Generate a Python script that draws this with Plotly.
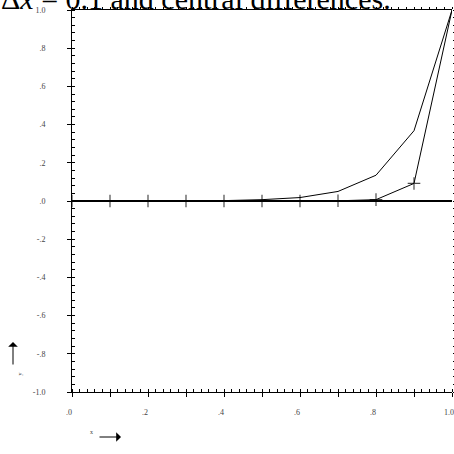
import plotly.graph_objects as go

# Data
x_vals = [0.0, 0.1, 0.2, 0.3, 0.4, 0.5, 0.6, 0.7, 0.8, 0.9, 1.0]
exact_y = [0.0, 0.0, 0.0, 0.001, 0.002, 0.007, 0.018, 0.05, 0.135, 0.368, 1.0]
central_y = [0.0, 0.0, 0.0, 0.0, 0.0, 0.0, 0.0, 0.001, 0.007, 0.092, 1.0]

x_tickvals = [0.0, 0.1, 0.2, 0.3, 0.4, 0.5, 0.6, 0.7, 0.8, 0.9, 1.0]
x_ticktext = [".0", "", ".2", "", ".4", "", ".6", "", ".8", "", "1.0"]
y_tickvals = [-1.0, -0.8, -0.6, -0.4, -0.2, 0.0, 0.2, 0.4, 0.6, 0.8, 1.0]
y_ticktext = ["-1.0", "-.8", "-.6", "-.4", "-.2", ".0", ".2", ".4", ".6", ".8", "1.0"]

title_text = "Δ<i>x</i> = 0.1 and central differences."

SERIF = "Liberation Serif, Times New Roman, DejaVu Serif, serif"

W, H = 454, 454
ML, MR, MT, MB = 72, 2, 10, 62
PW, PH = W - ML - MR, H - MT - MB

def px(xp):
    return (xp - ML) / PW

def py(yp):
    return (H - MB - yp) / PH

fig = go.Figure()
fig.add_trace(go.Scatter(x=x_vals, y=exact_y, mode="lines",
                         line=dict(color="black", width=1), showlegend=False))
fig.add_trace(go.Scatter(x=x_vals, y=central_y, mode="lines+markers",
                         line=dict(color="black", width=1),
                         marker=dict(symbol="cross-thin", size=[9] * 10 + [0],
                                     line=dict(color="black", width=1.2)),
                         showlegend=False))
# helper empty traces so overlay axes render
fig.add_trace(go.Scatter(x=[None], y=[None], xaxis="x", yaxis="y2", showlegend=False))
fig.add_trace(go.Scatter(x=[None], y=[None], xaxis="x2", yaxis="y", showlegend=False))

tickfont = dict(family=SERIF, size=8, color="#444")

fig.update_layout(
    width=W, height=H,
    margin=dict(l=ML, r=MR, t=MT, b=MB, autoexpand=False),
    plot_bgcolor="white", paper_bgcolor="white",
    showlegend=False,
    font=dict(family=SERIF),
    xaxis=dict(range=[0, 1], showgrid=False, zeroline=False, automargin=False,
               showline=True, linecolor="black", linewidth=1, mirror=True,
               tickmode="array", tickvals=x_tickvals, ticktext=x_ticktext,
               ticks="outside", ticklen=4, tickcolor="black", tickwidth=1,
               minor=dict(ticks="inside", dtick=0.02, ticklen=3, tickcolor="black", tickwidth=1),
               tickfont=tickfont, ticklabelstandoff=8, ticklabelshift=-3),
    xaxis2=dict(range=[0, 1], overlaying="x", side="top", anchor="y", automargin=False,
                showgrid=False, zeroline=False, showline=False,
                tickmode="linear", tick0=0, dtick=0.02,
                ticks="outside", ticklen=2, tickcolor="black", tickwidth=1,
                showticklabels=False),
    yaxis=dict(range=[-1, 1], showgrid=False, automargin=False,
               zeroline=True, zerolinecolor="black", zerolinewidth=1.5,
               showline=True, linecolor="black", linewidth=1,
               tickmode="array", tickvals=y_tickvals, ticktext=y_ticktext,
               ticks="outside", ticklen=4, tickcolor="black", tickwidth=1,
               minor=dict(ticks="inside", dtick=0.04, ticklen=3, tickcolor="black", tickwidth=1),
               tickfont=tickfont, ticklabelstandoff=20),
    yaxis2=dict(range=[-1, 1], overlaying="y", side="right", anchor="x", automargin=False,
                showgrid=False, zeroline=False, showline=False,
                tickmode="linear", tick0=0, dtick=0.04,
                ticks="outside", ticklen=1, tickcolor="black", tickwidth=1,
                showticklabels=False),
)

fig.add_annotation(text=title_text, xref="paper", yref="paper",
                   x=px(393), y=py(17), xanchor="right", yanchor="bottom",
                   showarrow=False,
                   font=dict(family=SERIF, size=30, color="black"))

# axis name labels with arrows
fig.add_annotation(text="x", xref="paper", yref="paper", x=px(88), y=py(437),
                   showarrow=False, font=dict(family=SERIF, size=6, color="#444"))
fig.add_annotation(text="", xref="paper", yref="paper", x=px(121), y=py(437),
                   ax=-23, ay=0, showarrow=True, arrowhead=1, arrowsize=1.6,
                   arrowwidth=1, arrowcolor="black")
fig.add_annotation(text="y", xref="paper", yref="paper", x=px(14), y=py(378),
                   textangle=-90, showarrow=False,
                   font=dict(family=SERIF, size=6, color="#444"))
fig.add_annotation(text="", xref="paper", yref="paper", x=px(13), y=py(342),
                   ax=0, ay=24, showarrow=True, arrowhead=1, arrowsize=1.6,
                   arrowwidth=1, arrowcolor="black")

fig.write_html("out.html", config={"displayModeBar": False},
               post_script="document.body.style.margin='0';")
